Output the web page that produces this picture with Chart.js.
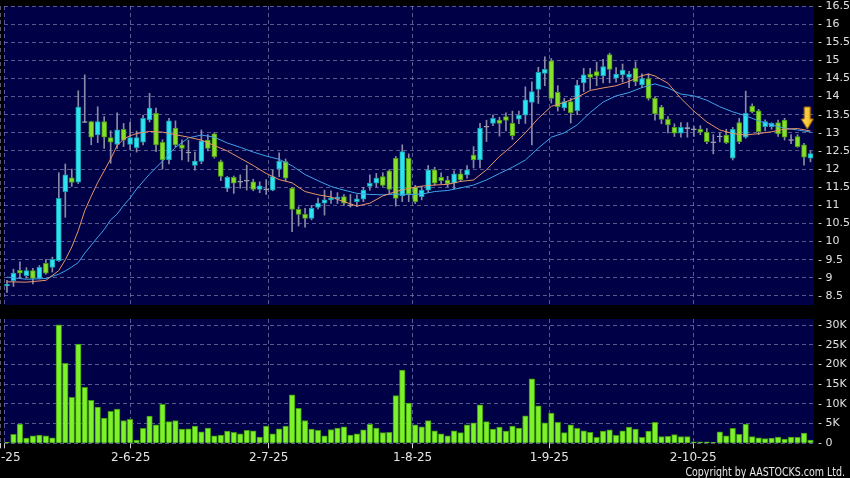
<!DOCTYPE html>
<html>
<head>
<meta charset="utf-8">
<script src="https://cdn.jsdelivr.net/npm/chart.js@4.4.1/dist/chart.umd.min.js"></script>
<style>
  html, body { margin: 0; padding: 0; background: #000; }
  body { width: 850px; height: 478px; overflow: hidden; position: relative; }
  canvas { position: absolute; left: -30px; }
  #price { top: -5px; }
  #vol { top: 305px; }
  #copy {
    position: absolute; right: 5px; top: 466px; line-height: 12px;
    font-size: 12px; color: #e8e8e8; white-space: nowrap;
    font-family: "DejaVu Sans", sans-serif;
    transform: scaleX(0.79); transform-origin: right center;
  }
</style>
</head>
<body>
<canvas id="price" width="880" height="325"></canvas>
<canvas id="vol" width="880" height="173"></canvas>
<div id="copy">Copyright by AASTOCKS.com Ltd.</div>
<script>
// daily candles, 6 May 2025 onwards (index = trading day)
const opens = [8.78, 8.92, 9.21, 9.06, 9.20, 8.98, 9.40, 9.29, 9.47, 11.38,
  11.76, 11.64, 13.30, 13.31, 12.94, 13.31, 12.87, 12.68, 13.10, 12.68,
  12.59, 12.74, 13.36, 13.54, 12.74, 12.25, 13.13, 12.67, 12.46, 12.10,
  12.21, 12.80, 12.97, 12.21, 11.47, 11.77, 11.65, 11.68, 11.65, 11.44,
  11.44, 11.42, 12.00, 12.21, 11.47, 10.89, 10.75, 10.64, 10.94, 11.06,
  11.15, 11.18, 11.24, 11.00, 11.10, 11.17, 11.52, 11.61, 11.79, 11.95,
  12.30, 11.26, 12.30, 11.50, 11.24, 11.42, 11.98, 11.77, 11.70, 11.61,
  11.87, 11.84, 12.39, 12.25, 13.17, 13.26, 13.35, 13.45, 13.26, 13.38,
  13.49, 13.84, 14.20, 14.64, 14.99, 14.12, 13.69, 13.86, 13.61, 14.38,
  14.62, 14.69, 14.57, 15.16, 14.51, 14.60, 14.53, 14.78, 14.32, 14.50,
  13.95, 13.71, 13.37, 13.15, 12.99, 13.13, 13.10, 13.10, 13.02, 12.74,
  12.90, 12.94, 12.30, 13.28, 12.88, 13.74, 13.61, 13.17, 13.17, 13.28,
  13.35, 12.80, 12.90, 12.67, 12.30];
const highs = [8.93, 9.24, 9.44, 9.28, 9.26, 9.34, 9.50, 9.57, 11.90, 12.14,
  12.00, 14.16, 14.60, 13.32, 13.72, 13.45, 13.06, 13.55, 13.26, 13.29,
  13.05, 13.49, 14.09, 13.68, 12.81, 13.40, 13.33, 12.81, 12.80, 12.47,
  13.08, 12.95, 13.00, 12.25, 11.80, 11.81, 11.84, 12.11, 11.72, 11.65,
  11.71, 11.97, 12.45, 12.28, 11.50, 10.96, 10.92, 11.00, 11.20, 11.42,
  11.40, 11.35, 11.30, 11.30, 11.29, 11.50, 11.84, 11.88, 11.90, 11.98,
  12.35, 12.67, 12.42, 11.55, 11.52, 12.10, 12.05, 11.90, 11.80, 11.95,
  11.98, 12.10, 12.62, 13.26, 13.35, 13.50, 13.43, 13.55, 13.60, 13.60,
  14.27, 14.41, 14.81, 15.10, 15.05, 14.30, 13.95, 13.95, 14.45, 14.78,
  14.78, 14.95, 15.03, 15.20, 14.80, 14.90, 14.70, 14.96, 14.63, 14.63,
  14.00, 13.76, 13.45, 13.25, 13.28, 13.28, 13.18, 13.20, 13.12, 12.95,
  13.00, 13.10, 13.15, 13.40, 14.15, 13.80, 13.65, 13.36, 13.28, 13.35,
  13.40, 12.95, 12.95, 12.71, 12.50];
const lows = [8.60, 8.76, 9.00, 8.99, 8.83, 8.97, 9.10, 9.16, 9.45, 10.67,
  11.52, 11.60, 13.28, 12.67, 12.73, 12.57, 12.16, 12.57, 12.62, 12.53,
  12.47, 12.67, 13.30, 12.48, 12.00, 12.14, 12.60, 12.25, 12.21, 11.97,
  12.15, 12.50, 12.30, 11.68, 11.38, 11.33, 11.47, 11.42, 11.40, 11.35,
  11.30, 11.40, 11.79, 11.68, 10.27, 10.43, 10.40, 10.60, 10.90, 10.73,
  11.05, 11.05, 11.00, 10.95, 10.96, 11.10, 11.42, 11.50, 11.52, 11.35,
  10.98, 11.10, 11.10, 11.05, 11.15, 11.35, 11.55, 11.60, 11.50, 11.45,
  11.65, 11.75, 12.03, 12.03, 12.76, 13.20, 12.91, 13.05, 12.82, 13.25,
  13.26, 12.67, 13.81, 14.30, 13.82, 13.60, 13.62, 13.27, 13.50, 14.14,
  14.20, 14.30, 14.38, 14.38, 14.40, 14.40, 14.25, 14.30, 14.25, 13.90,
  13.35, 13.25, 13.00, 12.90, 12.88, 12.88, 12.90, 12.95, 12.70, 12.42,
  12.75, 12.70, 12.25, 12.70, 12.85, 13.55, 12.95, 13.05, 13.10, 12.90,
  12.80, 12.70, 12.60, 12.11, 12.20];
const closes = [8.82, 9.13, 9.13, 9.20, 8.98, 9.29, 9.13, 9.51, 11.19, 11.84,
  11.63, 13.71, 13.30, 12.88, 13.31, 12.88, 12.74, 13.08, 12.80, 12.87,
  12.87, 13.40, 13.68, 12.67, 12.25, 13.33, 12.67, 12.57, 12.46, 12.22,
  12.78, 12.57, 12.34, 11.80, 11.77, 11.61, 11.65, 11.68, 11.44, 11.54,
  11.44, 11.79, 12.22, 11.75, 10.89, 10.75, 10.64, 10.92, 11.06, 11.15,
  11.21, 11.23, 11.06, 11.00, 11.18, 11.42, 11.61, 11.75, 11.55, 11.44,
  11.19, 12.48, 11.31, 11.10, 11.42, 11.98, 11.61, 11.68, 11.59, 11.87,
  11.70, 11.98, 12.25, 13.13, 13.17, 13.40, 13.26, 13.34, 12.92, 13.49,
  13.91, 14.14, 14.67, 14.75, 13.95, 13.72, 13.86, 13.56, 14.32, 14.60,
  14.53, 14.57, 14.83, 14.75, 14.62, 14.73, 14.62, 14.41, 14.50, 13.95,
  13.52, 13.37, 13.22, 12.99, 13.15, 13.13, 13.10, 13.02, 12.76, 12.74,
  12.90, 12.73, 13.10, 12.76, 13.54, 13.58, 13.03, 13.31, 13.26, 12.97,
  12.88, 12.80, 12.62, 12.33, 12.43];
// volume in thousands of shares
const volumes = [0.25, 2.3, 4.9, 1.3, 1.9, 2.1, 1.9, 1.4, 30.1, 20.3,
  11.7, 25.2, 14.2, 10.9, 9.2, 6.4, 8.1, 8.7, 5.8, 6.1,
  0.85, 3.8, 6.9, 4.7, 9.9, 5.5, 5.8, 3.6, 3.7, 4.4,
  2.9, 3.9, 1.9, 2.1, 3.1, 2.8, 2.4, 3.3, 3.2, 1.6,
  4.4, 2.4, 3.7, 4.4, 12.3, 8.9, 5.8, 3.6, 3.3, 1.9,
  3.5, 3.9, 4.2, 2.1, 2.4, 3.4, 4.8, 3.9, 2.7, 2.8,
  12.1, 18.6, 10.2, 4.7, 4.2, 5.8, 3.2, 2.4, 1.9, 3.2,
  2.7, 4.7, 5.2, 9.8, 5.5, 3.6, 4.1, 3.1, 4.4, 3.9,
  7.0, 16.4, 9.5, 5.2, 7.7, 5.3, 2.7, 4.7, 3.8, 3.2,
  2.8, 1.5, 3.1, 3.4, 2.0, 3.2, 4.1, 3.6, 1.5, 3.1,
  5.3, 1.7, 1.8, 2.2, 1.7, 1.7, 0.4, 0.4, 0.4, 0.25,
  2.9, 1.9, 3.8, 2.3, 4.9, 1.7, 1.4, 1.2, 1.3, 1.6,
  1.1, 1.6, 1.5, 2.6, 0.85];

// moving averages at these day indexes
const maIdx = [0, 3, 6, 8, 9, 10, 11, 12, 13, 14, 15, 16, 17, 18, 19, 20,
  22, 24, 26, 28, 30, 32, 34, 36, 38, 40, 42, 44, 46, 48, 50, 52, 54, 56, 58,
  60, 62, 64, 66, 68, 70, 72, 74, 76, 78, 80, 82, 84, 86, 88, 90, 92, 94, 96, 98,
  99, 100, 102, 104, 106, 108, 110, 112, 114, 116, 118, 120, 122, 124];
const ma10 = [8.89, 8.88, 8.93, 9.20, 9.50, 9.85, 10.30, 10.85, 11.25, 11.63, 11.95, 12.28, 12.65, 12.83, 12.92, 12.98,
  13.04, 13.02, 12.95, 12.88, 12.80, 12.65, 12.50, 12.30, 12.10, 11.88, 11.71, 11.62, 11.38, 11.29, 11.23, 11.10, 10.98, 11.06, 11.26,
  11.38, 11.47, 11.53, 11.56, 11.58, 11.66, 11.70, 11.98, 12.35, 12.65, 13.00, 13.40, 13.73, 13.84, 13.98, 14.17, 14.24, 14.30, 14.42, 14.58,
  14.62, 14.57, 14.37, 13.95, 13.60, 13.30, 13.08, 12.98, 12.94, 12.98, 13.03, 13.10, 13.12, 13.05];
const ma20 = [9.02, 8.96, 8.98, 9.10, 9.19, 9.30, 9.42, 9.68, 9.90, 10.12, 10.33, 10.60, 10.76, 11.00, 11.20, 11.45,
  11.86, 12.22, 12.60, 12.86, 12.94, 12.88, 12.72, 12.60, 12.47, 12.36, 12.27, 12.09, 11.85, 11.68, 11.52, 11.42, 11.33, 11.30, 11.29,
  11.31, 11.30, 11.31, 11.38, 11.41, 11.48, 11.56, 11.70, 11.88, 12.05, 12.25, 12.58, 12.88, 13.00, 13.22, 13.56, 13.85, 14.02, 14.11, 14.25,
  14.30, 14.35, 14.24, 14.07, 14.02, 13.90, 13.72, 13.58, 13.47, 13.33, 13.22, 13.13, 13.08, 13.02];

// month labels (positions in day units, as drawn on the original axis)
const tickPos = [-0.93, -0.46, 19.09, 40.39, 62.6, 83.69, 105.9];
const tickLabels = ["2-5-25", "", "2-6-25", "2-7-25", "1-8-25", "1-9-25", "2-10-25"];
const arrowAt = { x: 123.5, y: 13.41 };

const UP = "#2ee3f0", UP_EDGE = "#169db0";
const DOWN = "#86df2a", DOWN_EDGE = "#4b9a15";
const FLAT = "#a4a4b8", WICK = "#8a8aa4";
const NAVY = "#000046", GRID = "rgba(125,125,175,0.7)";
const FONT = "DejaVu Sans";

const days = opens.map((_, i) => i);
const bodyColor = days.map(i => closes[i] > opens[i] ? UP : closes[i] < opens[i] ? DOWN : FLAT);
const edgeColor = days.map(i => closes[i] > opens[i] ? UP_EDGE : closes[i] < opens[i] ? DOWN_EDGE : FLAT);

const panelBg = {
  id: "panelBg",
  beforeDraw(chart) {
    const { ctx, chartArea: a } = chart;
    ctx.save();
    ctx.fillStyle = NAVY;
    ctx.fillRect(a.left, a.top, a.right - a.left, a.bottom - a.top);
    ctx.restore();
  }
};

const xScale = (showLabels) => ({
  type: "linear",
  min: -0.46,
  max: 124.54,
  offset: false,
  afterBuildTicks: s => { s.ticks = tickPos.map(v => ({ value: v })); },
  afterFit: s => { s.height = showLabels ? 21 : 0; },
  grid: { color: GRID, offset: false, drawTicks: showLabels, tickLength: 5, tickColor: "#cfcfcf" },
  border: { display: false, dash: [4, 3] },
  ticks: {
    display: showLabels, autoSkip: false, maxRotation: 0, padding: 2,
    color: "#e4e4e4", font: { family: FONT, size: 12 },
    callback: (v, i) => tickLabels[i]
  }
});

const yScale = (min, max, step, fmt) => ({
  position: "right",
  min: min,
  max: max,
  afterFit: s => { s.width = 36; },
  grid: { color: GRID, drawTicks: false },
  border: { display: false, dash: [4, 3] },
  ticks: {
    stepSize: step, includeBounds: false, padding: 4,
    color: "#e0e0e0", font: { family: FONT, size: 11 },
    callback: v => "- " + fmt(v)
  }
});

// down-arrow marker
const arrowImg = document.createElement("canvas");
arrowImg.width = 14;
arrowImg.height = 24;
const g = arrowImg.getContext("2d");
const grad = g.createLinearGradient(0, 0, 14, 0);
grad.addColorStop(0, "#fff07a");
grad.addColorStop(1, "#f2a400");
g.beginPath();
g.moveTo(4, 1); g.lineTo(10, 1); g.lineTo(10, 13); g.lineTo(13, 13);
g.lineTo(7, 23); g.lineTo(1, 13); g.lineTo(4, 13); g.closePath();
g.fillStyle = grad;
g.fill();
g.strokeStyle = "#b07000";
g.lineWidth = 1;
g.stroke();

Chart.defaults.font.family = FONT;

new Chart(document.getElementById("price"), {
  type: "bar",
  data: {
    datasets: [
      {
        type: "line",
        data: [arrowAt],
        pointStyle: arrowImg,
        pointRadius: 10,
        showLine: false,
        clip: false,
        order: 0
      },
      {
        type: "line",
        data: maIdx.map((x, k) => ({ x: x, y: ma10[k] })),
        borderColor: "#e8946a",
        borderWidth: 1,
        pointRadius: 0,
        order: 1
      },
      {
        type: "line",
        data: maIdx.map((x, k) => ({ x: x, y: ma20[k] })),
        borderColor: "#3fa2ea",
        borderWidth: 1,
        pointRadius: 0,
        order: 1
      },
      {
        data: days.map(i => ({
          x: i,
          y: opens[i] === closes[i] ? [opens[i] - 0.012, opens[i] + 0.012] : [opens[i], closes[i]]
        })),
        backgroundColor: bodyColor,
        borderColor: edgeColor,
        borderWidth: 1,
        borderSkipped: false,
        barThickness: 5,
        grouped: false,
        order: 2
      },
      {
        data: days.map(i => ({ x: i, y: [lows[i], highs[i]] })),
        backgroundColor: WICK,
        barThickness: 1,
        grouped: false,
        order: 3
      }
    ]
  },
  options: {
    responsive: false,
    animation: false,
    devicePixelRatio: 1,
    events: [],
    layout: { padding: { left: 34, top: 11, right: 0, bottom: 15 } },
    plugins: { legend: { display: false }, tooltip: { enabled: false } },
    scales: {
      x: xScale(false),
      y: yScale(8.25, 16.5, 0.5, v => String(Math.round(v * 10) / 10))
    }
  },
  plugins: [panelBg]
});

new Chart(document.getElementById("vol"), {
  type: "bar",
  data: {
    datasets: [{
      data: days.map(i => ({ x: i, y: volumes[i] })),
      backgroundColor: "#7df22a",
      borderColor: "#3f9410",
      borderWidth: 1,
      barThickness: 5.6,
      grouped: false
    }]
  },
  options: {
    responsive: false,
    animation: false,
    devicePixelRatio: 1,
    events: [],
    layout: { padding: { left: 34, top: 14, right: 0, bottom: 13.7 } },
    plugins: { legend: { display: false }, tooltip: { enabled: false } },
    scales: {
      x: xScale(true),
      y: yScale(0, 31.6, 5, v => v === 0 ? "0" : v + "K")
    }
  },
  plugins: [panelBg]
});
</script>
</body>
</html>
